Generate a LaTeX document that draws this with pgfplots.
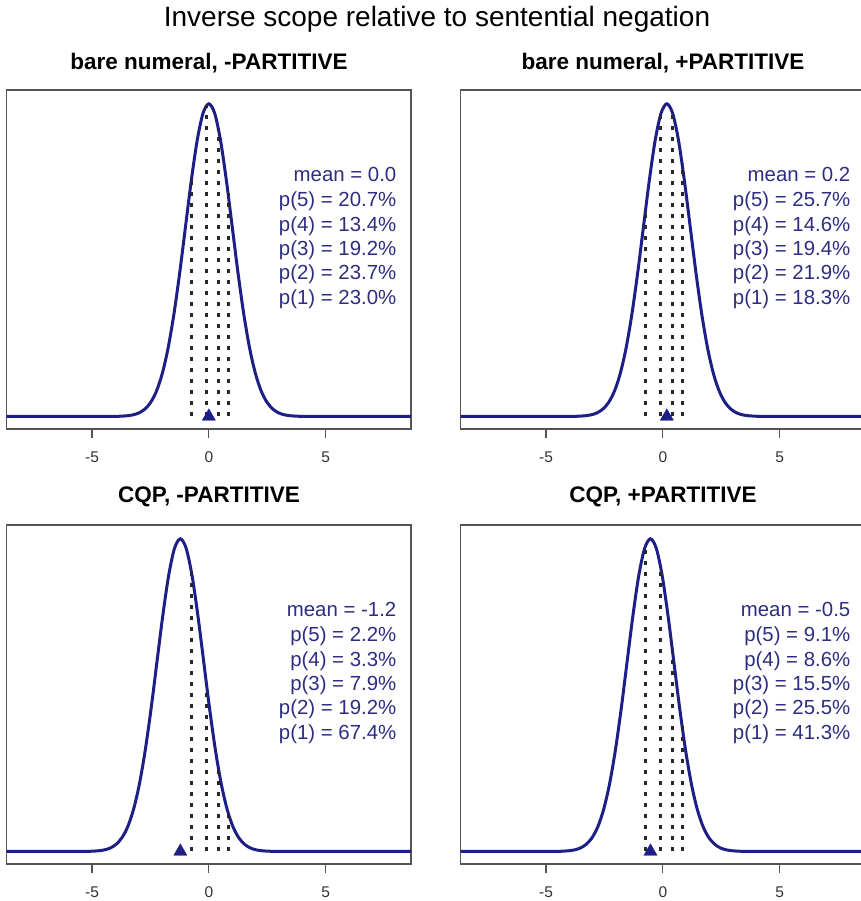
\documentclass[border=0pt]{standalone}
\usepackage{fontspec}
\setmainfont{Liberation Sans}
\usepackage{pgfplots}
\usepackage{pgfplotstable}
\pgfplotsset{compat=1.18}
\definecolor{curve}{RGB}{30,30,135}
\definecolor{stattext}{RGB}{45,45,130}
\definecolor{boxgray}{RGB}{85,85,85}
\definecolor{dotgray}{RGB}{40,40,40}

% standard-normal density shifted to each panel's mean
\pgfplotstableread{
x1 x2 x3 x4 d
-10.5 -10.33 -11.72 -11.03 0
-4.5 -4.33 -5.72 -5.03 0
-4 -3.83 -5.22 -4.53 0.0001
-3.75 -3.58 -4.97 -4.28 0.0004
-3.5 -3.33 -4.72 -4.03 0.0009
-3.25 -3.08 -4.47 -3.78 0.0020
-3 -2.83 -4.22 -3.53 0.0044
-2.75 -2.58 -3.97 -3.28 0.0091
-2.5 -2.33 -3.72 -3.03 0.0175
-2.25 -2.08 -3.47 -2.78 0.0317
-2 -1.83 -3.22 -2.53 0.0540
-1.75 -1.58 -2.97 -2.28 0.0863
-1.5 -1.33 -2.72 -2.03 0.1295
-1.25 -1.08 -2.47 -1.78 0.1826
-1 -0.83 -2.22 -1.53 0.2420
-0.75 -0.58 -1.97 -1.28 0.3011
-0.5 -0.33 -1.72 -1.03 0.3521
-0.25 -0.08 -1.47 -0.78 0.3867
0 0.17 -1.22 -0.53 0.3989
0.25 0.42 -0.97 -0.28 0.3867
0.5 0.67 -0.72 -0.03 0.3521
0.75 0.92 -0.47 0.22 0.3011
1 1.17 -0.22 0.47 0.2420
1.25 1.42 0.03 0.72 0.1826
1.5 1.67 0.28 0.97 0.1295
1.75 1.92 0.53 1.22 0.0863
2 2.17 0.78 1.47 0.0540
2.25 2.42 1.03 1.72 0.0317
2.5 2.67 1.28 1.97 0.0175
2.75 2.92 1.53 2.22 0.0091
3 3.17 1.78 2.47 0.0044
3.25 3.42 2.03 2.72 0.0020
3.5 3.67 2.28 2.97 0.0009
3.75 3.92 2.53 3.22 0.0004
4 4.17 2.78 3.47 0.0001
4.5 4.67 3.28 3.97 0
10.5 10.67 9.28 9.97 0
}\dens

\pgfplotsset{
  panel/.style={
    scale only axis, width=404.3pt, height=339pt,
    xmin=-8.65, xmax=8.65, ymin=-0.016, ymax=0.4165,
    xtick={-5,0,5}, ytick=\empty,
    xtick pos=bottom, tick align=outside,
    major tick length=9pt,
    axis line style={boxgray, line width=1.2pt},
    every tick/.style={boxgray, line width=1.2pt},
    /pgf/number format/assume math mode=true,
    xticklabel style={font=\fontsize{15.5}{15.5}\selectfont, text=black!80, yshift=-10pt},
    clip=true,
  },
  dens/.style={curve, line width=3pt, smooth},
  cut/.style={dotgray, line width=3pt, dash pattern=on 4pt off 7pt},
  meanmark/.style={only marks, mark=triangle*, mark size=7.6pt, curve, mark options={solid, fill=curve, draw=curve}},
}
\tikzset{st/.style={anchor=base east, text=stattext, font=\fontsize{20.4}{20.4}\selectfont, inner sep=0pt}}
\newcommand\stats[6]{%
  \node[st] at (axis cs:8.03,0.2994) {mean = #1};
  \node[st] at (axis cs:8.03,0.2675) {p(5) = #2};
  \node[st] at (axis cs:8.03,0.2360) {p(4) = #3};
  \node[st] at (axis cs:8.03,0.2051) {p(3) = #4};
  \node[st] at (axis cs:8.03,0.1742) {p(2) = #5};
  \node[st] at (axis cs:8.03,0.1432) {p(1) = #6};
}

\begin{document}
\begin{tikzpicture}

\node[anchor=base, font=\fontsize{28}{28}\selectfont, inner sep=0pt] at (437pt,-27pt) {Inverse scope relative to sentential negation};
\node[anchor=base, font=\bfseries\fontsize{22.5}{22.5}\selectfont, inner sep=0pt] at (209pt,-70pt) {bare numeral, -PARTITIVE};
\node[anchor=base, font=\bfseries\fontsize{22.5}{22.5}\selectfont, inner sep=0pt] at (663pt,-70pt) {bare numeral, +PARTITIVE};
\node[anchor=base, font=\bfseries\fontsize{22.5}{22.5}\selectfont, inner sep=0pt] at (209pt,-502pt) {CQP, -PARTITIVE};
\node[anchor=base, font=\bfseries\fontsize{22.5}{22.5}\selectfont, inner sep=0pt] at (663pt,-502pt) {CQP, +PARTITIVE};

% top-left
\begin{axis}[panel, at={(6.7pt,-429pt)}, anchor=south west]
\addplot[dens] table[x=x1, y=d] {\dens};
\addplot[cut] coordinates {(-0.74,0) (-0.74,0.3034)};
\addplot[cut] coordinates {(-0.08,0) (-0.08,0.3976)};
\addplot[cut] coordinates {(0.41,0) (0.41,0.3668)};
\addplot[cut] coordinates {(0.82,0) (0.82,0.2850)};
\addplot[meanmark] coordinates {(0,0)};
\stats{0.0}{20.7\%}{13.4\%}{19.2\%}{23.7\%}{23.0\%}
\end{axis}

% top-right
\begin{axis}[panel, at={(460.7pt,-429pt)}, anchor=south west]
\addplot[dens] table[x=x2, y=d] {\dens};
\addplot[cut] coordinates {(-0.74,0) (-0.74,0.2637)};
\addplot[cut] coordinates {(-0.08,0) (-0.08,0.3867)};
\addplot[cut] coordinates {(0.41,0) (0.41,0.3876)};
\addplot[cut] coordinates {(0.82,0) (0.82,0.3230)};
\addplot[meanmark] coordinates {(0.17,0)};
\stats{0.2}{25.7\%}{14.6\%}{19.4\%}{21.9\%}{18.3\%}
\end{axis}

% bottom-left
\begin{axis}[panel, at={(6.7pt,-864pt)}, anchor=south west]
\addplot[dens] table[x=x3, y=d] {\dens};
\addplot[cut] coordinates {(-0.74,0) (-0.74,0.3555)};
\addplot[cut] coordinates {(-0.08,0) (-0.08,0.2083)};
\addplot[cut] coordinates {(0.41,0) (0.41,0.1057)};
\addplot[cut] coordinates {(0.82,0) (0.82,0.0498)};
\addplot[meanmark] coordinates {(-1.22,0)};
\stats{-1.2}{2.2\%}{3.3\%}{7.9\%}{19.2\%}{67.4\%}
\end{axis}

% bottom-right
\begin{axis}[panel, at={(460.7pt,-864pt)}, anchor=south west]
\addplot[dens] table[x=x4, y=d] {\dens};
\addplot[cut] coordinates {(-0.74,0) (-0.74,0.3902)};
\addplot[cut] coordinates {(-0.08,0) (-0.08,0.3605)};
\addplot[cut] coordinates {(0.41,0) (0.41,0.2565)};
\addplot[cut] coordinates {(0.82,0) (0.82,0.1604)};
\addplot[meanmark] coordinates {(-0.53,0)};
\stats{-0.5}{9.1\%}{8.6\%}{15.5\%}{25.5\%}{41.3\%}
\end{axis}

\pgfresetboundingbox
\useasboundingbox (0pt,0pt) rectangle (860pt,-901pt);
\end{tikzpicture}
\end{document}
